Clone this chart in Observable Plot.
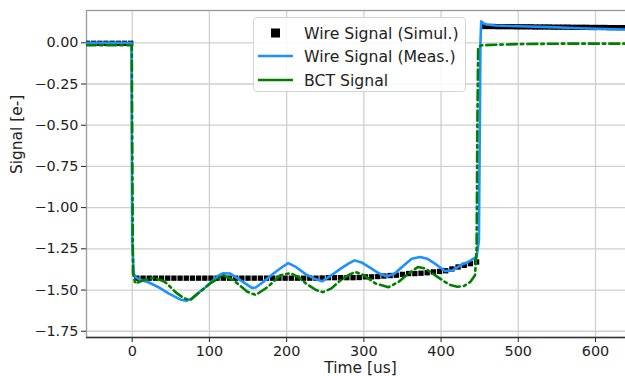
<!DOCTYPE html>
<html><head><meta charset="utf-8">
<script src="https://cdn.jsdelivr.net/npm/d3@7"></script>
<script src="https://cdn.jsdelivr.net/npm/@observablehq/plot@0.6"></script>
<style>
body{margin:0;background:#fff;font-family:"DejaVu Sans",sans-serif;}
#wrap{position:relative;width:625px;height:376px;overflow:hidden;}
#legend{position:absolute;left:253px;top:17px;width:211px;height:73px;border:1px solid #d4d4d4;border-radius:4px;background:rgba(255,255,255,0.85);font-size:15.7px;color:#222;}
.row{position:absolute;left:0;height:20px;display:flex;align-items:center;}
.row span{position:absolute;left:50px;white-space:nowrap;}
</style></head><body>
<div id="wrap"></div>
<script>
// Simulated wire signal (squares)
const simT = [-58,-50,-42,-34,-26,-18,-10,-2,
  6,14,22,30,38,46,54,62,70,78,86,94,102,110,118,126,134,142,150,158,166,174,182,190,198,206,214,222,230,238,246,
  254,262,270,278,286,294,
  302,310,318,326,334,
  342,350,358,366,374,
  382,390,398,406,414,422,430,438,446,
  456,462,468,474,480,486,492,498,504,510,516,522,528,534,540,546,552,558,564,570,576,582,588,594,600,606,612,618,624,630,636,642,648];
const simV = [-0.003,-0.003,-0.003,-0.003,-0.003,-0.003,-0.003,-0.003,
  -1.428,-1.428,-1.428,-1.428,-1.428,-1.428,-1.428,-1.428,-1.428,-1.428,-1.428,-1.428,-1.428,-1.428,-1.428,-1.428,-1.428,-1.428,-1.428,-1.428,-1.428,-1.428,-1.428,-1.428,-1.428,-1.428,-1.428,-1.428,-1.428,-1.428,-1.427,
  -1.425,-1.425,-1.425,-1.425,-1.425,-1.424,
  -1.42,-1.42,-1.418,-1.415,-1.412,
  -1.41,-1.405,-1.40,-1.40,-1.398,
  -1.395,-1.39,-1.387,-1.383,-1.372,-1.36,-1.35,-1.34,-1.33,
  0.099,0.099,0.099,0.098,0.098,0.098,0.098,0.097,0.097,0.097,0.097,0.096,0.096,0.096,0.096,0.095,0.095,0.095,0.095,0.094,0.094,0.094,0.094,0.093,0.093,0.093,0.093,0.092,0.092,0.092,0.092,0.091,0.091];

// Measured wire signal (blue line)
const measT = [-60,-1,0,2,5,12,21,34,47,62,70,77,85,95,105,112,118,127,140,155,160,170,183,193,202,212,225,238,246,258,270,280,288,298,310,320,330,340,352,362,373,382,392,405,415,425,435,442,446,449,451,452,455,459,470,500,542,580,660];
const measV = [0.0,0.0,-1.2,-1.40,-1.425,-1.44,-1.453,-1.483,-1.52,-1.557,-1.565,-1.552,-1.52,-1.483,-1.44,-1.412,-1.398,-1.40,-1.44,-1.487,-1.485,-1.45,-1.40,-1.365,-1.337,-1.36,-1.405,-1.435,-1.447,-1.41,-1.37,-1.34,-1.32,-1.335,-1.37,-1.40,-1.418,-1.40,-1.35,-1.31,-1.30,-1.31,-1.34,-1.385,-1.38,-1.35,-1.33,-1.31,-1.30,-1.2,0.0,0.13,0.118,0.111,0.105,0.10,0.095,0.088,0.078];

// BCT signal (green dash-dot)
const bctT = [-60,-0.5,0,1,4,15,28,40,45,56,67,75,88,101,118,131,149,160,175,192,205,215,225,238,247,258,270,280,289,300,315,332,345,358,370,380,392,405,412,421,430,438,444,446,447,448,452,470,500,560,660];
const bctV = [-0.015,-0.015,-0.6,-1.40,-1.46,-1.44,-1.425,-1.445,-1.46,-1.513,-1.55,-1.562,-1.51,-1.46,-1.41,-1.44,-1.51,-1.53,-1.483,-1.41,-1.398,-1.42,-1.46,-1.50,-1.513,-1.49,-1.44,-1.41,-1.39,-1.41,-1.46,-1.483,-1.45,-1.40,-1.36,-1.37,-1.41,-1.45,-1.47,-1.48,-1.475,-1.45,-1.41,-1.25,-0.5,-0.03,-0.015,-0.012,-0.008,-0.005,-0.005];

const xTicks = [0,100,200,300,400,500,600];
const yTicks = [0,-0.25,-0.5,-0.75,-1.0,-1.25,-1.5,-1.75];
const xLabel = "Time [us]";
const yLabel = "Signal [e-]";
const seriesNames = ["Wire Signal (Simul.)","Wire Signal (Meas.)","BCT Signal"];

const sim = simT.map((t,i)=>({t, v: simV[i]}));
const meas = measT.map((t,i)=>({t, v: measV[i]}));
const bct = bctT.map((t,i)=>({t, v: bctV[i]}));

const blue = "#1e90ff", green = "#008000";
const yMin = -1.788, yMax = 0.196;

const chart = Plot.plot({
  width: 634, height: 376,
  marginLeft: 86, marginRight: 0, marginTop: 10, marginBottom: 39,
  style: {fontFamily: "DejaVu Sans, sans-serif", fontSize: "14.4px", color: "#222", background: "#fff", maxWidth: "none"},
  x: {domain: [-59.2, 650.5], ticks: xTicks, tickSize: 5, tickPadding: 3, label: null, tickFormat: d3.format("d")},
  y: {domain: [yMin, yMax], ticks: yTicks, tickSize: 5, tickPadding: 3, label: null, tickFormat: d3.format(".2f")},
  marks: [
    Plot.ruleX(xTicks, {stroke: "#cfcfcf", strokeWidth: 1.3}),
    Plot.ruleY(yTicks, {stroke: "#cfcfcf", strokeWidth: 1.3}),
    Plot.frame({stroke: "#999", strokeWidth: 1.3}),
    Plot.ruleY([yMin], {stroke: "#333", strokeWidth: 1.3}),
    Plot.dot(sim, {x: "t", y: "v", symbol: "square", r: 3.0, fill: "#000", stroke: "none", clip: true}),
    Plot.line(meas, {x: "t", y: "v", stroke: blue, strokeWidth: 2.6, clip: true}),
    Plot.line(bct, {x: "t", y: "v", stroke: green, strokeWidth: 2.6, strokeDasharray: "10,4,2.5,4", clip: true}),
    Plot.text([xLabel], {frameAnchor: "bottom", dy: 31, text: d => d, fill: "#222", lineAnchor: "middle"}),
    Plot.text([yLabel], {frameAnchor: "left", dx: -69, rotate: -90, text: d => d, fill: "#222", lineAnchor: "middle"})
  ]
});
document.getElementById("wrap").appendChild(chart);
d3.select(chart).selectAll("text").each(function(){
  const t = this.textContent;
  this.style.fontSize = (t === xLabel || t === yLabel) ? "15.4px" : "14.4px";
  this.style.fontFamily = "DejaVu Sans, sans-serif";
});

// Legend
const leg = document.createElement("div");
leg.id = "legend";
const rows = [
  {y: 5, kind: "square"}, {y: 28, kind: "line", color: blue}, {y: 52, kind: "line", color: green}
];
rows.forEach((r,i)=>{
  const row = document.createElement("div");
  row.className = "row";
  row.style.top = r.y + "px";
  row.style.width = "210px";
  let sw = r.kind === "square"
    ? `<svg width="45" height="20" style="position:absolute;left:0;top:0"><rect x="17" y="5.5" width="9" height="9" fill="#000"/></svg>`
    : `<svg width="45" height="20" style="position:absolute;left:0;top:0"><line x1="4" x2="39" y1="10" y2="10" stroke="${r.color}" stroke-width="2.6"/></svg>`;
  row.innerHTML = sw + `<span>${seriesNames[i]}</span>`;
  leg.appendChild(row);
});
document.getElementById("wrap").appendChild(leg);
</script>
</body></html>
